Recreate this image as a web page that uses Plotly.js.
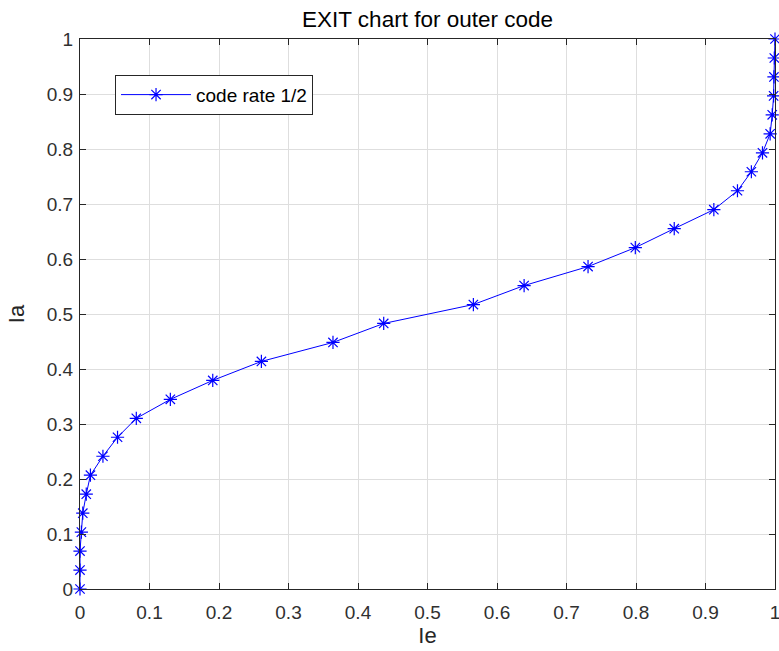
<!DOCTYPE html>
<html>
<head>
<meta charset="utf-8">
<script src="https://cdn.plot.ly/plotly-3.0.1.min.js"></script>
<style>html,body{margin:0;padding:0;background:#fff;}#chart{width:779px;height:651px;}</style>
</head>
<body>
<div id="chart"></div>
<script>
// Ie (x) values
const ie = [0, 0, 0, 0.002, 0.004, 0.009, 0.015, 0.033, 0.054, 0.081, 0.130, 0.191,
  0.261, 0.364, 0.437, 0.566, 0.639, 0.731, 0.799, 0.855, 0.912, 0.946, 0.966,
  0.982, 0.993, 0.996, 0.998, 0.9985, 0.999, 1.0];
// Ia (y) values
const ia = [0, 0.0345, 0.069, 0.1034, 0.1379, 0.1724, 0.2069, 0.2414, 0.2759, 0.3103,
  0.3448, 0.3793, 0.4138, 0.4483, 0.4828, 0.5172, 0.5517, 0.5862, 0.6207, 0.6552,
  0.6897, 0.7241, 0.7586, 0.7931, 0.8276, 0.8621, 0.8966, 0.9310, 0.9655, 1.0];
const tickVals = [0, 0.1, 0.2, 0.3, 0.4, 0.5, 0.6, 0.7, 0.8, 0.9, 1];
const tickText = ['0', '0.1', '0.2', '0.3', '0.4', '0.5', '0.6', '0.7', '0.8', '0.9', '1'];
const seriesName = 'code rate 1/2';

const font = 'Liberation Sans, Arial, Helvetica, sans-serif';
const axisCommon = {
  range: [0, 1],
  tickvals: tickVals,
  ticktext: tickText,
  ticks: 'inside',
  ticklen: 6,
  tickwidth: 1,
  tickcolor: '#262626',
  showline: true,
  linecolor: '#262626',
  linewidth: 1,
  mirror: 'ticks',
  showgrid: true,
  gridcolor: '#dedede',
  gridwidth: 1,
  zeroline: false,
  tickfont: {family: font, size: 19, color: '#303030'},
  ticklabeloverflow: 'allow',
  fixedrange: true
};

const data = [{
  x: ie,
  y: ia,
  type: 'scatter',
  mode: 'lines+markers',
  name: seriesName,
  line: {color: '#0000ff', width: 1},
  marker: {symbol: 'asterisk-open', size: 11, color: '#0000ff', line: {color: '#0000ff', width: 1.2}},
  cliponaxis: false
}];

const layout = {
  width: 779,
  height: 651,
  margin: {l: 80, r: 4, t: 39, b: 62},
  paper_bgcolor: '#ffffff',
  plot_bgcolor: '#ffffff',
  title: {text: 'EXIT chart for outer code', font: {family: font, size: 22.5, color: '#000000'},
          x: 0.5488, xanchor: 'center', y: 0.971, yanchor: 'middle'},
  xaxis: Object.assign({}, axisCommon, {
    title: {text: 'Ie', font: {family: font, size: 22, color: '#262626'}, standoff: 3},
    ticklabelstandoff: 6
  }),
  yaxis: Object.assign({}, axisCommon, {
    title: {text: 'Ia', font: {family: font, size: 22, color: '#262626'}, standoff: 16},
    ticklabelstandoff: 2
  }),
  showlegend: true,
  legend: {
    x: 0.0504, y: 0.935, xanchor: 'left', yanchor: 'top',
    bgcolor: '#ffffff', bordercolor: '#262626', borderwidth: 1,
    font: {family: font, size: 19, color: '#000000'},
    itemwidth: 70
  }
};

Plotly.newPlot('chart', data, layout, {displayModeBar: false, staticPlot: true});
</script>
</body>
</html>
